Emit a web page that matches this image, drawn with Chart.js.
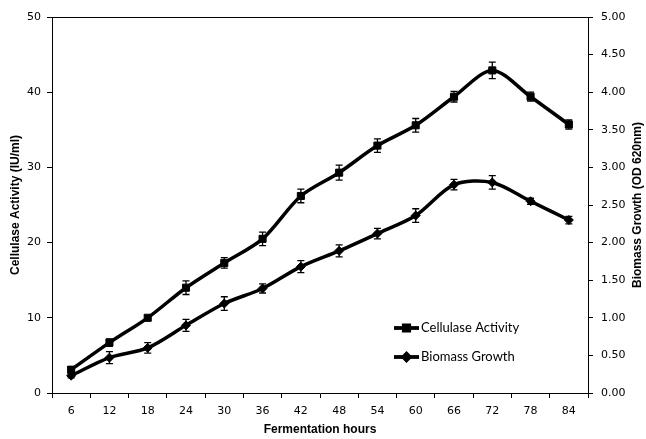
<!DOCTYPE html>
<html>
<head>
<meta charset="utf-8">
<script src="https://cdn.jsdelivr.net/npm/chart.js@4"></script>
<style>
  body { margin: 0; background: #fff; }
  #wrap { width: 646px; height: 439px; }
</style>
</head>
<body>
<div id="wrap"><canvas id="chartzz" width="646" height="439"></canvas></div>
<script>
const hours = ['6','12','18','24','30','36','42','48','54','60','66','72','78','84'];
const cellulase = [3.1, 6.7, 10.0, 14.0, 17.3, 20.5, 26.2, 29.3, 32.9, 35.6, 39.4, 42.9, 39.4, 35.7];
const cellulaseErr = [0.4, 0.5, 0.3, 0.9, 0.7, 0.9, 0.9, 1.0, 0.9, 0.9, 0.7, 1.1, 0.6, 0.6];
const biomass = [0.23, 0.47, 0.60, 0.90, 1.19, 1.39, 1.68, 1.89, 2.12, 2.36, 2.77, 2.80, 2.55, 2.30];
const biomassErr = [0.03, 0.08, 0.07, 0.08, 0.09, 0.06, 0.08, 0.08, 0.07, 0.09, 0.07, 0.09, 0.04, 0.05];

const tickFont = {family: 'DejaVu Sans', size: 11};
const titleFont = {family: 'Liberation Sans', size: 12, weight: 'bold'};

// error bars, top border, right title, legend inside the plot
const extras = {
  id: 'extras',
  afterDatasetsDraw(chart) {
    const c = chart.ctx;
    const x = chart.scales.x;
    const sets = [[chart.scales.y, cellulase, cellulaseErr], [chart.scales.y1, biomass, biomassErr]];
    c.save();
    c.strokeStyle = '#000';
    c.lineWidth = 1.3;
    sets.forEach(([ax, vals, errs]) => {
      vals.forEach((v, i) => {
        const px = x.getPixelForValue(i);
        const t = ax.getPixelForValue(v + errs[i]);
        const b = ax.getPixelForValue(v - errs[i]);
        c.beginPath();
        c.moveTo(px, t); c.lineTo(px, b);
        c.moveTo(px - 3.5, t); c.lineTo(px + 3.5, t);
        c.moveTo(px - 3.5, b); c.lineTo(px + 3.5, b);
        c.stroke();
      });
    });
    const a = chart.chartArea;
    c.lineWidth = 1;
    c.beginPath();
    c.moveTo(a.left, a.top + 0.5); c.lineTo(a.right, a.top + 0.5);
    c.stroke();

    // right axis title, reading bottom to top
    c.fillStyle = '#000';
    c.font = 'bold 12px "Liberation Sans"';
    c.textAlign = 'center';
    c.textBaseline = 'middle';
    c.translate(638, (a.top + a.bottom) / 2);
    c.rotate(-Math.PI / 2);
    c.fillText('Biomass Growth (OD 620nm)', 0, 0);
    c.restore();

    // legend
    const items = [['Cellulase Activity', 'rect', 3.8, 328], ['Biomass Growth', 'rectRot', 3.3, 357]];
    c.save();
    items.forEach(([label, style, r, y]) => {
      c.strokeStyle = '#000';
      c.lineWidth = 3.8;
      c.beginPath();
      c.moveTo(394, y); c.lineTo(419, y);
      c.stroke();
      Chart.helpers.drawPoint(c, {pointStyle: style, radius: r, borderWidth: 1}, 406.5, y);
      c.fillStyle = '#000';
      c.font = '13px Lato';
      c.textAlign = 'left';
      c.textBaseline = 'middle';
      c.fillText(label, 421, y);
    });
    c.restore();
  }
};

const ctx1 = document.getElementById('chartzz');
const chartzz = new Chart(ctx1, {
  type: 'line',
  data: {
    labels: hours,
    datasets: [{
      label: 'Cellulase Activity',
      data: cellulase,
      yAxisID: 'y',
      borderColor: '#000',
      backgroundColor: '#000',
      borderWidth: 3.5,
      tension: 0.3,
      pointStyle: 'rect',
      pointRadius: 5,
      pointBorderWidth: 1
    }, {
      label: 'Biomass Growth',
      data: biomass,
      yAxisID: 'y1',
      borderColor: '#000',
      backgroundColor: '#000',
      borderWidth: 3.5,
      tension: 0.3,
      pointStyle: 'rectRot',
      pointRadius: 4.5,
      pointBorderWidth: 1
    }]
  },
  options: {
    responsive: false,
    animation: false,
    layout: {padding: {top: 17, left: 0, right: 0, bottom: 0}},
    plugins: {legend: {display: false}, tooltip: {enabled: false}},
    scales: {
      x: {
        offset: true,
        grid: {drawOnChartArea: false, offset: true, tickLength: 5, color: '#000'},
        border: {color: '#000', width: 1},
        ticks: {font: tickFont, color: '#000', padding: 7, maxRotation: 0},
        title: {display: true, text: 'Fermentation hours', font: titleFont, color: '#000', padding: {top: 0, bottom: 2}},
        afterFit(s) { s.height = 46; }
      },
      y: {
        position: 'left',
        min: 0, max: 50,
        grid: {drawOnChartArea: false, tickLength: 5, color: '#000'},
        border: {color: '#000', width: 1},
        ticks: {stepSize: 10, font: tickFont, color: '#000', padding: 6},
        title: {display: true, text: 'Cellulase Activity (IU/ml)', font: titleFont, color: '#000', padding: {top: 8, bottom: 0}},
        afterFit(s) { s.width = 52; }
      },
      y1: {
        position: 'right',
        min: 0, max: 5,
        grid: {drawOnChartArea: false, tickLength: 5, color: '#000'},
        border: {color: '#000', width: 1},
        ticks: {stepSize: 0.5, font: tickFont, color: '#000', padding: 8, callback: v => v.toFixed(2)},
        afterFit(s) { s.width = 58; }
      }
    }
  },
  plugins: [extras]
});
</script>
</body>
</html>
